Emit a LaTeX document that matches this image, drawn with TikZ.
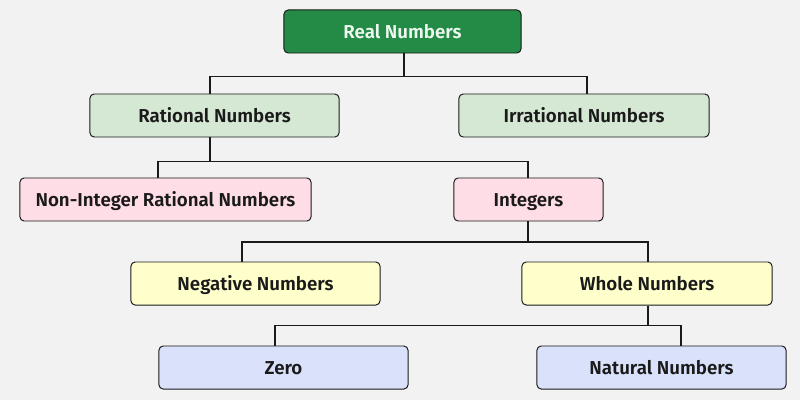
\documentclass[tikz,border=0pt]{standalone}
\usepackage{fontspec}
\setmainfont{Fira Sans}[BoldFont={Fira Sans SemiBold}]
\usetikzlibrary{calc}
\definecolor{bgcol}{HTML}{F2F2F2}
\definecolor{realcol}{HTML}{238B45}
\definecolor{realtxt}{HTML}{EEF8F0}
\definecolor{greenlite}{HTML}{D5E8D4}
\definecolor{pinklite}{HTML}{FFDDE6}
\definecolor{yellowlite}{HTML}{FFFFCC}
\definecolor{bluelite}{HTML}{DAE1FB}
\definecolor{inkcol}{HTML}{1A1A1A}

\tikzset{
  numbox/.style={draw=inkcol, line width=0.7pt, rounded corners=3pt,
    minimum height=1.075cm, inner sep=0pt, text=inkcol,
    text height=9.4pt, text depth=0pt,
    font=\bfseries\fontsize{13.3}{16}\selectfont},
  link/.style={line width=1.4pt, inkcol},
}

\begin{document}
\begin{tikzpicture}[x=0.025cm,y=-0.025cm]
  % ---------- canvas -------------------------------------------------
  \fill[bgcol] (0,0) rectangle (800,400);
  \useasboundingbox (0,0) rectangle (800,400);
  % ---------- boxes --------------------------------------------------
  \node[numbox,fill=realcol,text=realtxt,minimum width=5.925cm] (real) at (402.5,31.5) {Real Numbers};
  \node[numbox,fill=greenlite,minimum width=6.225cm] (rat) at (214.5,115.5) {Rational Numbers};
  \node[numbox,fill=greenlite,minimum width=6.25cm] (irr) at (584,115.5) {Irrational Numbers};
  \node[numbox,fill=pinklite,minimum width=7.275cm] (nonint) at (165.5,199.5) {Non-Integer Rational Numbers};
  \node[numbox,fill=pinklite,minimum width=3.725cm] (int) at (528.5,199.5) {Integers};
  \node[numbox,fill=yellowlite,minimum width=6.225cm] (neg) at (255.5,283.5) {Negative Numbers};
  \node[numbox,fill=yellowlite,minimum width=6.25cm] (whole) at (647,283.5) {Whole Numbers};
  \node[numbox,fill=bluelite,minimum width=6.225cm] (zero) at (283.5,367.5) {Zero};
  \node[numbox,fill=bluelite,minimum width=6.225cm] (nat) at (661.5,367.5) {Natural Numbers};
  % ---------- connectors ---------------------------------------------
  \draw[link] ($(real.south)+(1.5,0)$) -- ++(0,23) coordinate (jreal);
  \draw[link] ($(rat.north)+(-4.5,0)$) |- (jreal) -| ($(irr.north)+(3,0)$);
  \draw[link] ($(rat.south)+(-4.5,0)$) -- ++(0,24) coordinate (jrat);
  \draw[link] ($(nonint.north)+(-7.8,0)$) |- (jrat) -| ($(int.north)+(-0.5,0)$);
  \draw[link] ($(int.south)+(-0.5,0)$) -- ++(0,20.5) coordinate (jint);
  \draw[link] ($(neg.north)+(-13.8,0)$) |- (jint) -| ($(whole.north)+(0.7,0)$);
  \draw[link] ($(whole.south)+(0.7,0)$) -- ++(0,20) coordinate (jwhole);
  \draw[link] ($(zero.north)+(-8.5,0)$) |- (jwhole) -| ($(nat.north)+(19.5,0)$);
\end{tikzpicture}
\end{document}
